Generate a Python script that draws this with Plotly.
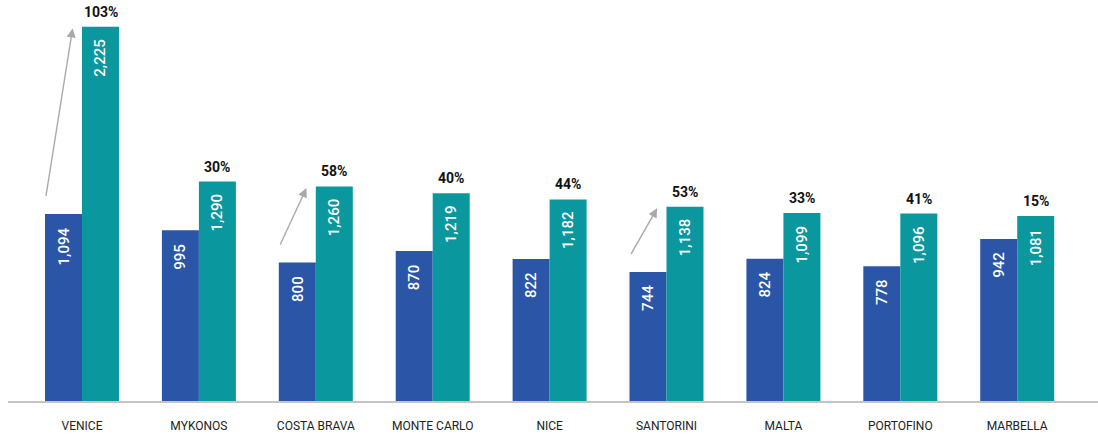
import plotly.graph_objects as go

cities = ["VENICE", "MYKONOS", "COSTA BRAVA", "MONTE CARLO", "NICE",
          "SANTORINI", "MALTA", "PORTOFINO", "MARBELLA"]
before = [1094, 995, 800, 870, 822, 744, 824, 778, 942]
after = [2225, 1290, 1260, 1219, 1182, 1138, 1099, 1096, 1081]
growth_pct = [103, 30, 58, 40, 44, 53, 33, 41, 15]
arrow_cities = ["VENICE", "COSTA BRAVA", "SANTORINI"]

BLUE = "#2B55A6"
TEAL = "#0A979E"
BASE = -36
xs = list(range(len(cities)))
OFF = 0.1583

fig = go.Figure()
fig.add_trace(go.Bar(x=xs, y=[v - BASE for v in before], base=BASE,
                     marker=dict(color=BLUE, line=dict(width=0)),
                     hoverinfo="skip"))
fig.add_trace(go.Bar(x=xs, y=[v - BASE for v in after], base=BASE,
                     marker=dict(color=TEAL, line=dict(width=0)),
                     hoverinfo="skip"))

ann = []
for i, c in enumerate(cities):
    for off, v in ((-OFF, before[i]), (OFF, after[i])):
        ann.append(dict(x=i + off, y=v, xref="x", yref="y", text=f"{v:,}",
                        textangle=-90, showarrow=False, yanchor="top",
                        xanchor="center", yshift=-11,
                        font=dict(family="Roboto", size=15, color="white", weight=500)))
    ann.append(dict(x=i + OFF, y=after[i], xref="x", yref="y",
                    text=f"<b>{growth_pct[i]}%</b>", showarrow=False,
                    yanchor="bottom", xanchor="center", yshift=5,
                    font=dict(family="Roboto", size=14, color="#111111")))
    if c in arrow_cities:
        ann.append(dict(x=i - 0.08, y=after[i] - 10, xref="x", yref="y",
                        ax=i - 0.31, ay=before[i] + 100, axref="x", ayref="y",
                        text="", showarrow=True, arrowhead=2, arrowsize=1.3,
                        arrowwidth=1.4, arrowcolor="#A9A9A9", standoff=0,
                        startstandoff=0))

fig.update_layout(
    width=1098, height=436,
    margin=dict(l=8, r=0, t=10, b=35),
    plot_bgcolor="white", paper_bgcolor="white",
    barmode="group", bargap=0.367, bargroupgap=0,
    showlegend=False,
    hovermode=False,
    annotations=ann,
    xaxis=dict(range=[-0.633, 8.691], tickvals=xs, ticktext=cities,
               showgrid=False, zeroline=False, showline=True,
               linecolor="#C4C4C4", linewidth=1.5, ticks="",
               ticklabelstandoff=13,
               tickfont=dict(family="Roboto", size=12, color="#222222")),
    yaxis=dict(range=[BASE, 2326], visible=False, showgrid=False,
               zeroline=False),
)

fig.write_html("out.html", config={"displayModeBar": False},
               post_script="document.body.style.margin='0';")
